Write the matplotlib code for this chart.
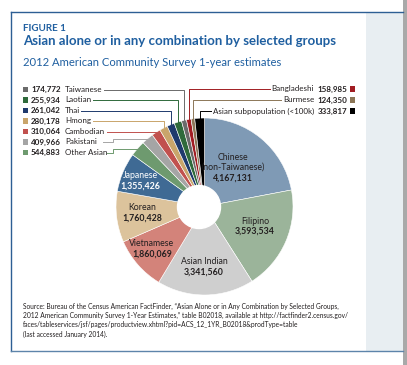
import numpy as np
import matplotlib.pyplot as plt
from matplotlib.patches import Rectangle, Circle

plt.rcParams['font.family'] = ['Lato', 'DejaVu Sans']

# data
groups = ['Chinese', 'Filipino', 'Asian Indian', 'Vietnamese', 'Korean', 'Japanese',
          'Other Asian', 'Pakistani', 'Cambodian', 'Hmong', 'Thai', 'Laotian',
          'Taiwanese', 'Bangladeshi', 'Burmese', 'Asian subpopulation (<100k)']
counts = [4167131, 3593534, 3341560, 1860069, 1760428, 1355426,
          544883, 409966, 310064, 280178, 261042, 255934,
          174772, 158985, 124350, 333817]
colors = ['#7f9ab5', '#9bb49a', '#cfcfcf', '#d3837a', '#dcc39c', '#3f6a94',
          '#6e9a6f', '#a5a5a5', '#c1514e', '#c9a56b', '#1f3a6d', '#2f6a3b',
          '#6b6b6b', '#a11d23', '#8c7657', '#000000']
inside = [0, 1, 2, 3, 4, 5]
left_items = [12, 11, 10, 9, 8, 7, 6]
right_items = [13, 14, 15]

W, H = 407, 365
fig = plt.figure(figsize=(W / 100, H / 100), dpi=100)
ax = fig.add_axes([0, 0, 1, 1])

def Y(py):
    return H - py

# taart
cx, cy, r = 204.5, 206.5, 88.5
ax.pie(counts, colors=colors, startangle=90, counterclock=False, center=(cx, Y(cy)),
       radius=r, wedgeprops=dict(edgecolor='white', linewidth=0.4))
ax.add_patch(Circle((199, Y(207)), 21.5, color='white', zorder=5))

# pie() zet eigen limieten, dus daarna pas de pixelschaal
ax.set_xlim(0, W)
ax.set_ylim(0, H)
ax.set_aspect('auto')
ax.axis('off')

# kader en achtergrond
ax.add_patch(Rectangle((366, Y(350.5)), 37, 339, color='#e8eef2', lw=0, zorder=0))
ax.add_patch(Rectangle((403, 0), 4, H, color='#a9a9a9', lw=0, zorder=0))
ax.plot([11, 403], [Y(11.5), Y(11.5)], color='#2d5f94', lw=1.0, zorder=1)
ax.plot([11, 11], [Y(11.5), Y(350.5)], color='#2d5f94', lw=1.0, zorder=1)
ax.plot([11, 403], [Y(350.5), Y(350.5)], color='#5d84aa', lw=1.0, zorder=1)

blue = '#1f5fa0'
txt = '#231f20'
ax.text(23, Y(28.5), 'FIGURE 1', color=blue, fontsize=7, fontweight='bold', va='center')
ax.text(23, Y(41), 'Asian alone or in any combination by selected groups', color=blue,
        fontsize=9.5, fontweight='bold', va='center')
ax.text(23, Y(62.5), '2012 American Community Survey 1-year estimates', color=blue,
        fontsize=8.1, va='center')

frac = np.cumsum(counts) / np.sum(counts)
mid = 360 * (frac - np.array(counts) / np.sum(counts) / 2)

def edge(i):
    a = np.radians(mid[i])
    return cx + r * np.sin(a), cy - r * np.cos(a)

# labels in de taart: (x, y van het getal)
lab_pos = [(233, 178), (255, 231.5), (204, 272), (152, 254), (142, 218.5), (140, 186)]
names_in = [['Chinese', '(non-Taiwanese)'], ['Filipino'], ['Asian Indian'], ['Vietnamese'],
            ['Korean'], ['Japanese']]
for k, i in enumerate(inside):
    x, y = lab_pos[k]
    c = 'white' if i == 5 else txt
    for j, line in enumerate(reversed(names_in[k])):
        ax.text(x, Y(y - 10.5 * (j + 1)), line, ha='center', va='center', fontsize=6.3,
                color=c, zorder=6)
    ax.text(x, Y(y), f'{counts[i]:,}', ha='center', va='center', fontsize=6.3,
            fontweight='bold', color=c, zorder=6)

# linker labels
row_y = [89.5, 100, 110.5, 121, 131.5, 142, 152.5]
line_start = [104, 93, 81, 93, 107, 103, 107]
for k, i in enumerate(left_items):
    y = row_y[k]
    ax.add_patch(Rectangle((22.5, Y(y + 2.8)), 5.6, 5.6, color=colors[i], lw=0))
    ax.text(31, Y(y), f'{counts[i]:,}', fontsize=5.8, fontweight='bold', color=txt, va='center')
    ax.text(65, Y(y), groups[i], fontsize=5.8, color=txt, va='center')
    ex, ey = edge(i)
    if k < 5:
        xs = [line_start[k], ex, ex]
        ys = [y, y, ey + 1]
    else:
        xs = [line_start[k], 113, 113, ex]
        ys = [y, y, ey, ey]
    ax.plot(xs, [Y(v) for v in ys], color=colors[i], lw=0.7, zorder=2)

# rechter labels
fig.canvas.draw()
rend = fig.canvas.get_renderer()
inv = ax.transData.inverted()
rrow_y = [89, 100, 111]
for k, i in enumerate(right_items):
    y = rrow_y[k]
    ax.add_patch(Rectangle((349.5, Y(y + 2.8)), 5.6, 5.6, color=colors[i], lw=0))
    num = ax.text(347, Y(y), f'{counts[i]:,}', fontsize=5.8, fontweight='bold', color=txt,
                  va='center', ha='right')
    nx = inv.transform((num.get_window_extent(rend).x0, 0))[0] - 3
    name = ax.text(nx, Y(y), groups[i], fontsize=5.8, color=txt, va='center', ha='right')
    lx = inv.transform((name.get_window_extent(rend).x0, 0))[0] - 2
    ex, ey = edge(i)
    ax.plot([lx, ex, ex], [Y(y), Y(y), Y(ey + 1)], color=colors[i], lw=0.7, zorder=2)

source = ('Source: Bureau of the Census American FactFinder, \u201cAsian Alone or in Any Combination by Selected Groups,\n'
          '2012 American Community Survey 1-Year Estimates,\u201d table B02018, available at http://factfinder2.census.gov/\n'
          'faces/tableservices/jsf/pages/productview.xhtml?pid=ACS_12_1YR_B02018&prodType=table\n'
          '(last accessed January 2014).')
ax.text(23, Y(303), source, fontsize=4.8, color=txt, va='top', linespacing=1.35)

plt.savefig('out.png', dpi=100)
